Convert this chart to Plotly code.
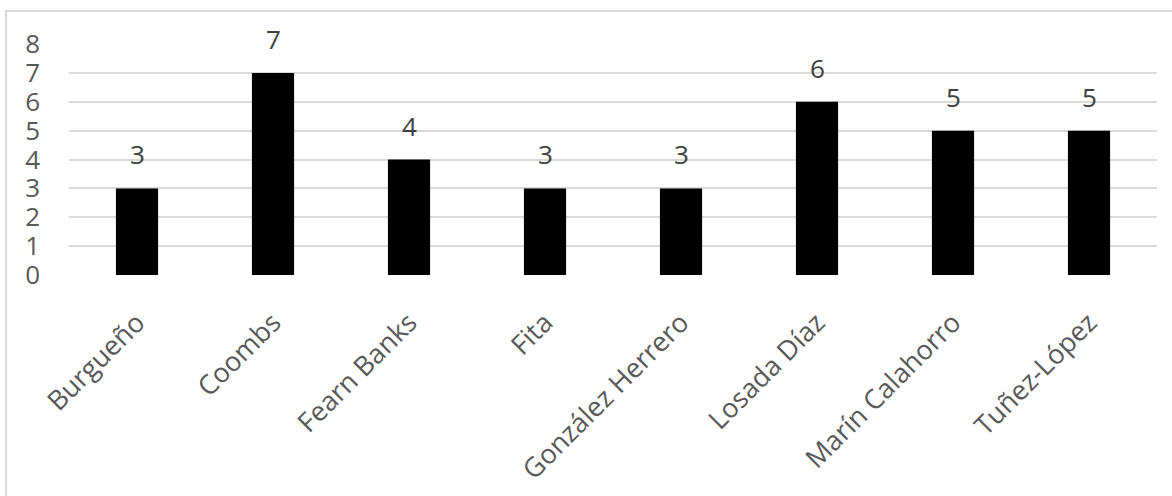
import plotly.graph_objects as go

categories = ["Burgueño", "Coombs", "Fearn Banks", "Fita", "González Herrero",
              "Losada Díaz", "Marín Calahorro", "Tuñez-López"]
values = [3, 7, 4, 3, 3, 6, 5, 5]
y_ticks = [0, 1, 2, 3, 4, 5, 6, 7, 8]

W, H = 1172, 496
ML, MR, MT, MB = 69, 15, 44, 221
FONT = "Open Sans"
TXT = "#595959"

fig = go.Figure(go.Bar(
    x=categories, y=values,
    marker=dict(color="black", line=dict(width=0)),
    width=0.31,
    hoverinfo="x+y",
))

for c, v in zip(categories, values):
    fig.add_annotation(x=c, y=v, text=str(v), showarrow=False,
                       yanchor="bottom", yshift=14,
                       font=dict(family=FONT, size=26, color="#404040"))

pw = W - ML - MR
ph = H - MT - MB
# chart border (left at x=6, top at y=11; right/bottom beyond view)
x0 = (6 - ML) / pw
x1 = (W + 20 - ML) / pw
y1 = (H - MB - 11) / ph
y0 = (H - MB - (H + 20)) / ph
fig.add_shape(type="rect", xref="paper", yref="paper",
              x0=x0, x1=x1, y0=y0, y1=y1,
              line=dict(color="#d9d9d9", width=2), layer="below")

fig.update_layout(
    width=W, height=H,
    margin=dict(l=ML, r=MR, t=MT, b=MB, pad=0, autoexpand=False),
    paper_bgcolor="white", plot_bgcolor="white",
    showlegend=False,
    font=dict(family=FONT, size=26, color=TXT),
    xaxis=dict(tickangle=-45, tickfont=dict(family=FONT, size=27, color=TXT),
               showgrid=False, showline=False, ticks="outside", ticklen=20,
               tickcolor="rgba(0,0,0,0)", zeroline=False, automargin=False),
    yaxis=dict(range=[0, 8], tickvals=y_ticks, showgrid=True,
               gridcolor="#d9d9d9", gridwidth=1.5, zeroline=False,
               showline=False, ticks="", ticklabelstandoff=28,
               automargin=False,
               tickfont=dict(family=FONT, size=26, color=TXT)),
)

fig.write_html("out.html")
